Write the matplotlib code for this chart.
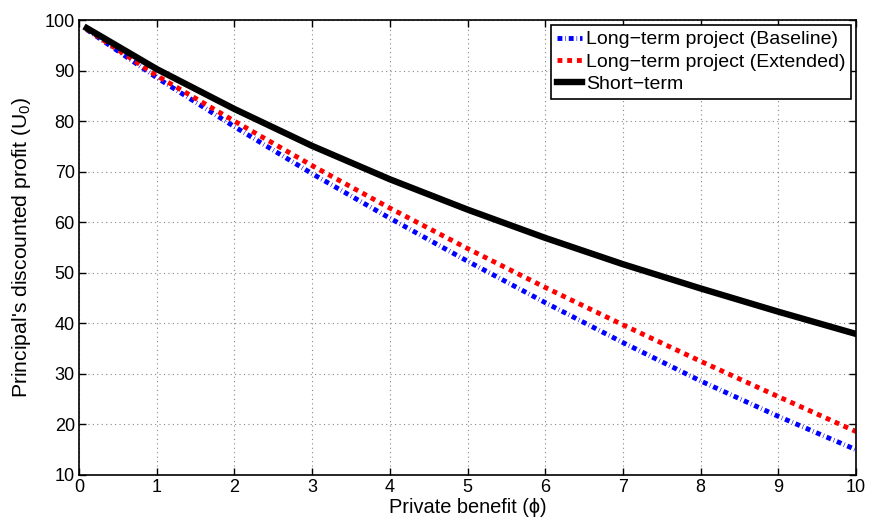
import numpy as np
import matplotlib as mpl
mpl.use('Agg')
import matplotlib.pyplot as plt

mpl.rcParams['font.family'] = ['Liberation Sans', 'DejaVu Sans']
mpl.rcParams['mathtext.fontset'] = 'custom'
mpl.rcParams['mathtext.rm'] = 'Liberation Sans'
mpl.rcParams['mathtext.it'] = 'Liberation Sans:italic'

# values
phi = [0.1, 1, 2, 3, 4, 5, 6, 7, 8, 9, 10]
u_baseline = [98.1, 88.6, 78.9, 69.6, 60.8, 52.3, 44.1, 36.2, 28.6, 21.6, 15.0]
u_extended = [98.2, 89.0, 80.0, 71.2, 62.8, 54.8, 47.1, 39.7, 32.5, 25.5, 18.6]
u_short = [98.4, 90.3, 82.4, 75.1, 68.5, 62.5, 56.9, 51.7, 46.9, 42.3, 37.9]

xticks = list(range(0, 11))
yticks = list(range(10, 101, 10))

fig = plt.figure(figsize=(8.71, 5.21), dpi=100)
ax = fig.add_axes([0.0907, 0.0883, 0.8921, 0.8733])

ax.plot(phi, u_baseline, color='#0000ff', lw=3.5, ls=(0, (1, 0.6, 0.12, 0.6)),
        label='Long\u2212term project (Baseline)')
ax.plot(phi, u_extended, color='#ff0000', lw=3.5, ls=(0, (1, 1)),
        label='Long\u2212term project (Extended)')
ax.plot(phi, u_short, color='black', lw=4.6, ls='-', label='Short\u2212term')

ax.set_xlim(0, 10)
ax.set_ylim(10, 100)
ax.set_xticks(xticks)
ax.set_yticks(yticks)
ax.tick_params(direction='in', top=True, right=True, labelsize=13, length=5, width=1, pad=3)
ax.grid(True, ls=(0, (1, 3)), color='#888888', lw=0.8)
for s in ax.spines.values():
    s.set_linewidth(1.2)

ax.set_xlabel('Private benefit (\u03d5)', fontsize=14.4, labelpad=1)
ax.set_ylabel('Principal\'s discounted profit (U$_0$)', fontsize=15.2, labelpad=8)

leg = ax.legend(loc='upper right', fontsize=14, handlelength=1.3, handletextpad=0.2,
                borderpad=0.3, labelspacing=0.25, borderaxespad=0.25, fancybox=False,
                framealpha=1, edgecolor='black')
leg.get_frame().set_linewidth(1.2)

plt.savefig('out.png', dpi=100)
